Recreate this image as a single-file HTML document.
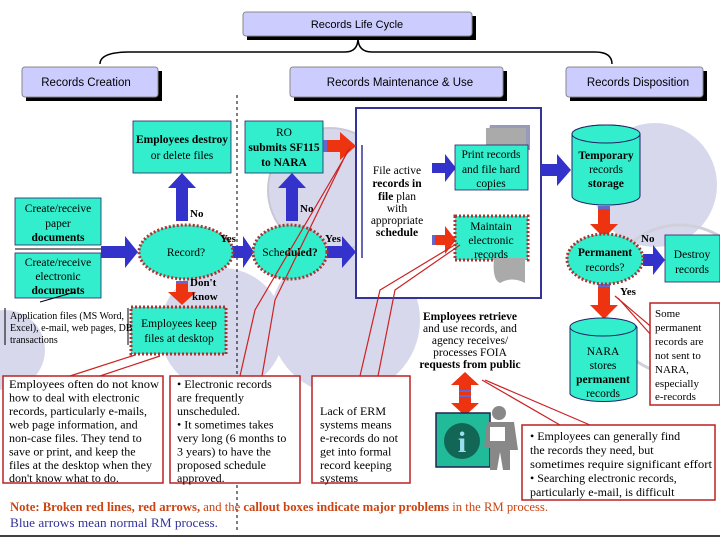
<!DOCTYPE html>
<html><head><meta charset="utf-8"><style>
body{margin:0;width:720px;height:540px;background:#fff;overflow:hidden}
svg text{font-family:"Liberation Serif",serif}
</style></head><body>
<svg width="720" height="540" viewBox="0 0 720 540" xmlns="http://www.w3.org/2000/svg">
<g fill="#d8d8ec">
<circle cx="330" cy="190" r="62"/>
<circle cx="222" cy="330" r="62"/>
<circle cx="345" cy="320" r="75"/>
<circle cx="655" cy="185" r="62"/>
<circle cx="5" cy="350" r="40"/>
</g>
<circle cx="330" cy="190" r="62" fill="none" stroke="#c8c8d8" stroke-width="2"/>
<circle cx="680" cy="300" r="75" fill="none" stroke="#d0d0dc" stroke-width="3"/>

<rect x="247" y="16" width="229" height="24" fill="#000"/>
<rect x="243" y="12" width="229" height="24" rx="3" fill="#ccccff" stroke="#888" stroke-width="1"/>
<text x="357" y="28" font-size="11" text-anchor="middle" style="font-family:'Liberation Sans',sans-serif">Records Life Cycle</text>
<path d="M100,64 Q100,52 130,52 L345,52 Q358,52 358,38 Q358,52 372,52 L595,52 Q612,52 612,64" fill="none" stroke="#000" stroke-width="1.5"/>
<rect x="26" y="71" width="136" height="30" fill="#000"/>
<rect x="22" y="67" width="136" height="30" rx="3" fill="#ccccff" stroke="#888"/>
<text x="86" y="86" font-size="11.5" text-anchor="middle" style="font-family:'Liberation Sans',sans-serif">Records Creation</text>
<rect x="294" y="71" width="213" height="30" fill="#000"/>
<rect x="290" y="67" width="213" height="30" rx="3" fill="#ccccff" stroke="#888"/>
<text x="400" y="86" font-size="11.5" text-anchor="middle" style="font-family:'Liberation Sans',sans-serif">Records Maintenance &amp; Use</text>
<rect x="570" y="71" width="137" height="30" fill="#000"/>
<rect x="566" y="67" width="137" height="30" rx="3" fill="#ccccff" stroke="#888"/>
<text x="638" y="86" font-size="11.5" text-anchor="middle" style="font-family:'Liberation Sans',sans-serif">Records Disposition</text>

<line x1="237" y1="95" x2="237" y2="530" stroke="#000" stroke-dasharray="3,3"/>

<rect x="356" y="108" width="185" height="190" fill="#fff" stroke="#333399" stroke-width="2"/>
<line x1="362" y1="145" x2="362" y2="258" stroke="#333399" stroke-width="1.5"/>

<g fill="#33eecc" stroke="#226" stroke-width="0.8">
<rect x="133" y="121" width="98" height="52"/>
<rect x="245" y="121" width="78" height="52"/>
<rect x="15" y="198" width="86" height="47"/>
<rect x="15" y="253" width="86" height="45"/>
<rect x="665" y="235" width="55" height="47"/>
</g>
<g font-size="11.5" text-anchor="middle">
<text x="182" y="143" font-weight="bold">Employees destroy</text>
<text x="182" y="159">or delete files</text>
<text x="284" y="136">RO</text>
<text x="284" y="151" font-weight="bold">submits SF115</text>
<text x="284" y="166" font-weight="bold">to NARA</text>
<text x="58" y="212">Create/receive</text>
<text x="58" y="227">paper</text>
<text x="58" y="241" font-weight="bold">documents</text>
<text x="58" y="266">Create/receive</text>
<text x="58" y="280">electronic</text>
<text x="58" y="294" font-weight="bold">documents</text>
<text x="692" y="258">Destroy</text>
<text x="692" y="273">records</text>
</g>
<line x1="15" y1="249" x2="101" y2="249" stroke="#000"/>

<g fill="#3333cc">
<polygon points="101,246 125,246 125,236 138,252 125,268 125,258 101,258"/>
<polygon points="176,221 176,188 168,188 182,173 196,188 188,188 188,221"/>
<polygon points="232,246 243,246 243,236 254,252 243,268 243,258 232,258"/>
<polygon points="286,221 286,188 278,188 292,173 306,188 298,188 298,221"/>
<polygon points="327,246 342,246 342,236 356,252 342,268 342,258 327,258"/>
<polygon points="432,163 445,163 445,154 456,168 445,182 445,173 432,173"/>
<polygon points="541,164 557,164 557,154 571,170 557,186 557,176 541,176"/>
<polygon points="643,254 653,254 653,245 665,260 653,275 653,266 643,266"/>
</g>
<g fill="#ee3311">
<polygon points="176,282 188,282 188,292 196,292 182,305 168,292 176,292"/>
<polygon points="323,140 340,140 340,132 356,146 340,160 340,152 323,152"/>
<polygon points="432,235 445,235 445,226 456,240 445,254 445,245 432,245"/>
<polygon points="598,206 610,206 610,224 618,224 604,238 590,224 598,224"/>
<polygon points="598,284 610,284 610,305 618,305 604,319 590,305 598,305"/>
<polygon points="465,372 479,385 471,385 471,403 479,403 465,416 451,403 459,403 459,385 451,385"/>
</g>
<g fill="#6666cc"><rect x="176" y="281" width="12" height="3"/><rect x="598" y="206" width="12" height="3"/><rect x="598" y="284" width="12" height="3"/><rect x="324" y="140" width="3" height="12"/><rect x="432" y="235" width="3" height="10"/><rect x="459" y="390" width="12" height="2"/><rect x="459" y="395" width="12" height="2"/></g>

<g fill="#33eecc" stroke="#aa3333" stroke-width="3" stroke-dasharray="2,2">
<ellipse cx="186" cy="252" rx="47" ry="27"/>
<ellipse cx="290" cy="252" rx="37" ry="27"/>
<ellipse cx="605" cy="259" rx="38" ry="25"/>
<rect x="131" y="307" width="95" height="47"/>
<rect x="455" y="216" width="73" height="44"/>
</g>
<g font-size="11.5" text-anchor="middle">
<text x="186" y="256">Record?</text>
<text x="290" y="256">Sche<tspan font-weight="bold">duled?</tspan></text>
<text x="605" y="256" font-weight="bold">Permanent</text>
<text x="605" y="271">records?</text>
<text x="179" y="327">Employees keep</text>
<text x="179" y="342">files at desktop</text>
<text x="491" y="230">Maintain</text>
<text x="491" y="244">electronic</text>
<text x="491" y="258">records</text>
</g>
<g font-size="11" font-weight="bold">
<text x="190" y="217">No</text><text x="300" y="212">No</text>
<text x="220" y="242">Yes</text><text x="325" y="242">Yes</text>
<text x="190" y="286">Don't</text><text x="192" y="300">know</text>
<text x="641" y="242">No</text><text x="620" y="295">Yes</text>
</g>
<polygon points="490,125 530,125 530,150 485,150" fill="#9999bb"/>
<rect x="486" y="128" width="40" height="20" fill="#aaa"/>
<path d="M494,258 L525,258 L525,283 Q512,276 500,283 Q492,280 494,258Z" fill="#aaa"/>
<rect x="455" y="145" width="73" height="45" fill="#33eecc" stroke="#226" stroke-width="0.8"/>
<g font-size="11.5" text-anchor="middle">
<text x="491" y="158">Print records</text>
<text x="491" y="173">and file hard</text>
<text x="491" y="187">copies</text>
<text x="397" y="174">File active</text>
<text x="397" y="187" font-weight="bold">records in</text>
<text x="397" y="200"><tspan font-weight="bold">file</tspan> plan</text>
<text x="397" y="212">with</text>
<text x="397" y="224">appropriate</text>
<text x="397" y="236" font-weight="bold">schedule</text>
</g>
<path d="M572,134 A34,9 0 0 1 640,134 L640,196 A34,9 0 0 1 572,196 Z" fill="#33eecc" stroke="#226"/>
<ellipse cx="606" cy="134" rx="34" ry="9" fill="#33eecc" stroke="#226"/>
<path d="M570,327 A34,9 0 0 1 637,327 L637,394 A34,9 0 0 1 570,394 Z" fill="#33eecc" stroke="#226"/>
<ellipse cx="603" cy="327" rx="33" ry="9" fill="#33eecc" stroke="#226"/>
<g font-size="11.5" text-anchor="middle" font-weight="bold">
<text x="606" y="159">Temporary</text>
<text x="606" y="173" font-weight="normal">records</text>
<text x="606" y="187">storage</text>
<text x="603" y="355" font-weight="normal">NARA</text>
<text x="603" y="369" font-weight="normal">stores</text>
<text x="603" y="383">permanent</text>
<text x="603" y="397" font-weight="normal">records</text>
</g>
<g font-size="11.5" text-anchor="middle" font-weight="bold">
<text x="470" y="320">Employees retrieve</text>
<text x="470" y="332" font-weight="normal">and use records, and</text>
<text x="470" y="344" font-weight="normal">agency receives/</text>
<text x="470" y="356" font-weight="normal">processes FOIA</text>
<text x="470" y="368">requests from public</text>
</g>

<rect x="436" y="413" width="54" height="54" fill="#22bb99" stroke="#225" stroke-width="1.5"/>
<circle cx="462" cy="441" r="18" fill="#116655"/>
<text x="462" y="452" font-size="30" text-anchor="middle" fill="#99ddee" font-weight="bold">i</text>
<g fill="#888">
<circle cx="499" cy="413" r="7"/>
<polygon points="487,422 514,422 518,450 510,450 510,470 503,470 500,452 497,470 490,470 490,448 484,448"/>
</g>
<rect x="490" y="427" width="15" height="14" fill="#fff"/>

<g stroke="#cc2222" stroke-width="1.2" fill="none">
<polyline points="70,376 135,355"/><polyline points="100,376 160,356"/>
<polyline points="240,376 255,310 350,148"/><polyline points="262,376 275,300 348,150"/>
<polyline points="360,376 380,290 458,243"/><polyline points="378,376 395,290 460,245"/>
<polyline points="560,425 482,380"/><polyline points="590,425 485,380"/>
<polyline points="655,330 615,296"/><polyline points="660,345 618,298"/>
</g>
<g fill="#fff" stroke="#bb2222" stroke-width="1.5">
<rect x="3" y="376" width="160" height="107"/>
<rect x="170" y="376" width="130" height="107"/>
<rect x="312" y="376" width="98" height="107"/>
<rect x="522" y="425" width="193" height="75"/>
<rect x="650" y="303" width="70" height="102"/>
</g>
<g font-size="12">
<text x="9" y="388" textLength="150" lengthAdjust="spacingAndGlyphs">Employees often do not know</text>
<text x="9" y="401.5">how to deal with electronic</text>
<text x="9" y="415">records, particularly e-mails,</text>
<text x="9" y="428.5">web page information, and</text>
<text x="9" y="442">non-case files. They tend to</text>
<text x="9" y="455.5">save or print, and keep the</text>
<text x="9" y="469">files at the desktop when they</text>
<text x="9" y="482">don't know what to do.</text>
<text x="177" y="388">• Electronic records</text>
<text x="177" y="401.5">are frequently</text>
<text x="177" y="415">unscheduled.</text>
<text x="177" y="428.5">• It sometimes takes</text>
<text x="177" y="442">very long (6 months to</text>
<text x="177" y="455.5">3 years) to have the</text>
<text x="177" y="469">proposed schedule</text>
<text x="177" y="482">approved.</text>
<text x="320" y="415">Lack of ERM</text>
<text x="320" y="428.5">systems means</text>
<text x="320" y="442">e-records do not</text>
<text x="320" y="455.5">get into formal</text>
<text x="320" y="469">record keeping</text>
<text x="320" y="482">systems</text>
<text x="530" y="440">• Employees can generally find</text>
<text x="530" y="454">the records they need, but</text>
<text x="530" y="468" textLength="182" lengthAdjust="spacingAndGlyphs">sometimes require significant effort</text>
<text x="530" y="482">• Searching electronic records,</text>
<text x="530" y="496">particularly e-mail, is difficult</text>
</g>
<g font-size="11">
<text x="655" y="317">Some</text>
<text x="655" y="331">permanent</text>
<text x="655" y="345">records are</text>
<text x="655" y="359">not sent to</text>
<text x="655" y="373">NARA,</text>
<text x="655" y="387">especially</text>
<text x="655" y="400">e-records</text>
</g>
<g font-size="10">
<text x="10" y="319">Application files (MS Word,</text>
<text x="10" y="331">Excel), e-mail, web pages, DB</text>
<text x="10" y="343">transactions</text>
</g>
<line x1="5" y1="308" x2="5" y2="345" stroke="#000"/>
<line x1="128" y1="308" x2="128" y2="345" stroke="#000"/>
<polyline points="40,302 75,292" stroke="#000" fill="none"/>

<text x="10" y="511" font-size="12.5" fill="#cc4411" textLength="538" lengthAdjust="spacingAndGlyphs"><tspan font-weight="bold">Note: Broken red lines, red arrows,</tspan> and the <tspan font-weight="bold">callout boxes indicate major problems</tspan> in the RM process.</text>
<text x="10" y="527" font-size="12.5" fill="#333399" textLength="208" lengthAdjust="spacingAndGlyphs">Blue arrows mean normal RM process.</text>
<line x1="0" y1="536" x2="720" y2="536" stroke="#000" stroke-width="1.5"/>
</svg>
</body></html>
